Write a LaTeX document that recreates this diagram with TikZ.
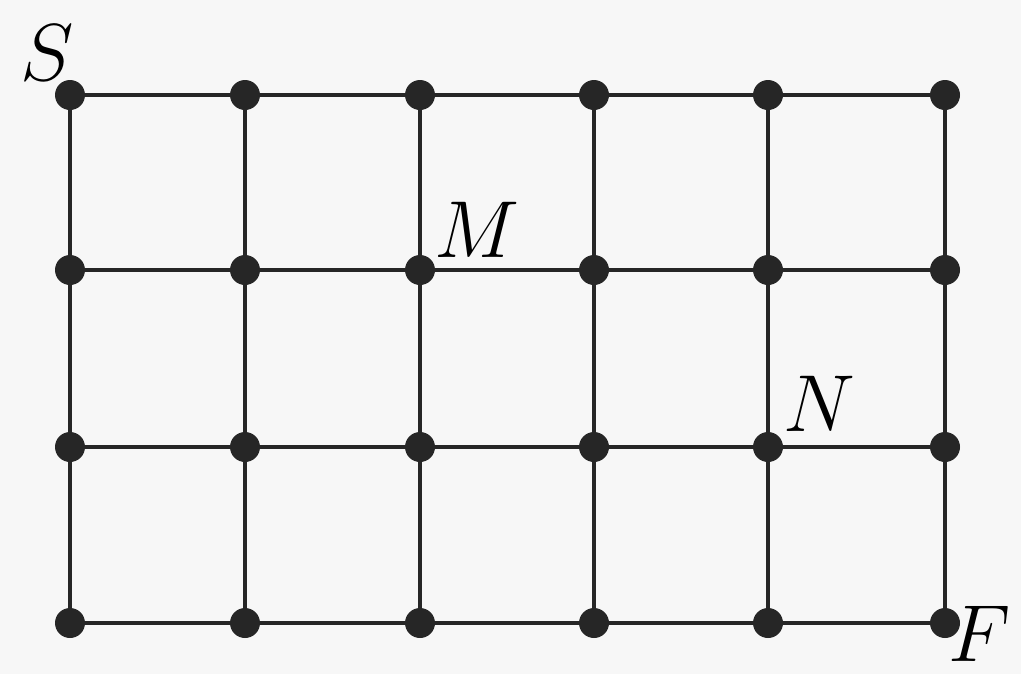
\RequirePackage{fix-cm}
\documentclass[tikz,border=0pt]{standalone}
\usepackage{tikz}
\usetikzlibrary{positioning}

\begin{document}
\begin{tikzpicture}[
    x=0.02cm, y=-0.02cm,
    dot/.style={circle, fill=black!85, inner sep=0pt, minimum size=0.6cm},
    grid line/.style={draw=black!85, line width=2.2pt},
    letter/.style={font=\fontsize{46}{50}\selectfont, inner sep=0pt}
]
\fill[black!3] (0,0) rectangle (1021,674);
\useasboundingbox (0,0) rectangle (1021,674);
\foreach \c/\x in {1/70, 2/245, 3/420, 4/594, 5/768, 6/945}
    \foreach \r/\y in {1/95, 2/270, 3/447, 4/623}
        \node[dot] (d\c\r) at (\x,\y) {};
\foreach \r in {1,2,3,4}
    \foreach \c [count=\n from 2] in {1,...,5}
        \draw[grid line] (d\c\r) -- (d\n\r);
\foreach \c in {1,...,6}
    \foreach \r [count=\n from 2] in {1,2,3}
        \draw[grid line] (d\c\r) -- (d\c\n);
\node[letter] (S) at (47,53) {$S$};
\node[letter] (M) at (477,230) {$M$};
\node[letter] (N) at (819,404) {$N$};
\node[letter] (F) at (980,634) {$F$};
\end{tikzpicture}
\end{document}
